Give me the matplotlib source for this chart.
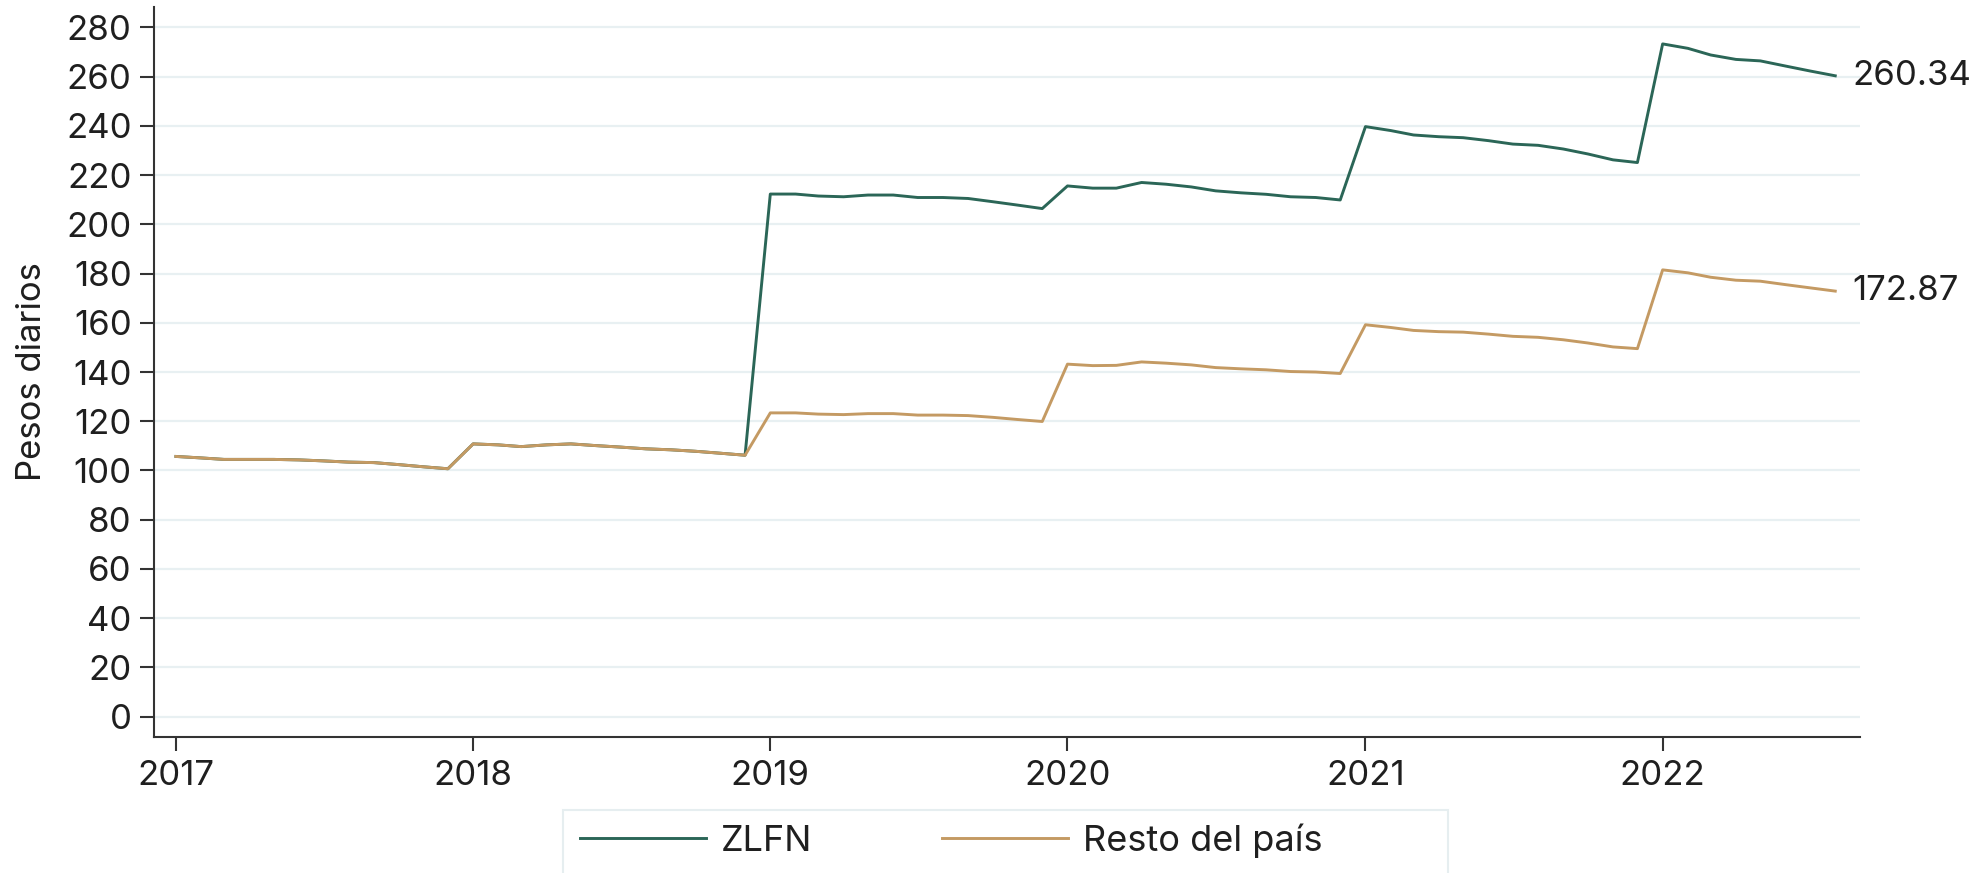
import numpy as np
import pandas as pd
import matplotlib
matplotlib.use('Agg')
import matplotlib.pyplot as plt
import matplotlib.dates as mdates
import matplotlib.patches as patches

# Salario minimo real mensual, ene 2017 - ago 2022
months = pd.date_range('2017-01-01', '2022-08-01', freq='MS')

common_2017_2018 = [105.7, 105.1, 104.5, 104.5, 104.5, 104.3, 103.9, 103.4, 103.2, 102.4, 101.5, 100.7,
                    110.8, 110.4, 109.7, 110.4, 110.8, 110.1, 109.5, 108.8, 108.4, 107.8, 107.0, 106.2]

zlfn_2019_2022 = [212.3, 212.3, 211.5, 211.2, 211.9, 211.9, 210.9, 210.9, 210.5, 209.2, 207.8, 206.4,
                  215.6, 214.7, 214.7, 217.0, 216.3, 215.2, 213.6, 212.8, 212.2, 211.2, 210.9, 209.9,
                  239.7, 238.1, 236.3, 235.6, 235.2, 234.0, 232.6, 232.1, 230.6, 228.6, 226.2, 225.1,
                  273.3, 271.5, 268.8, 267.0, 266.4, 264.3, 262.3, 260.34]

resto_2019_2022 = [123.4, 123.4, 122.9, 122.7, 123.1, 123.1, 122.5, 122.5, 122.3, 121.6, 120.7, 119.9,
                   143.2, 142.6, 142.7, 144.1, 143.6, 142.9, 141.8, 141.3, 140.9, 140.2, 140.0, 139.4,
                   159.2, 158.1, 156.9, 156.4, 156.2, 155.4, 154.5, 154.1, 153.1, 151.8, 150.2, 149.5,
                   181.5, 180.3, 178.5, 177.3, 176.9, 175.5, 174.2, 172.87]

zlfn = common_2017_2018 + zlfn_2019_2022
resto = common_2017_2018 + resto_2019_2022

series_names = ['ZLFN', 'Resto del país']
series_colors = ['#2b6657', '#c49a63']
year_ticks = [2017, 2018, 2019, 2020, 2021, 2022]
y_ticks = list(range(0, 281, 20))

plt.rcParams['font.family'] = ['Inter', 'DejaVu Sans']
text_color = '#1f1f1f'
fs = 25

fig = plt.figure(figsize=(19.74, 8.73), dpi=100)
ax = fig.add_axes([0.078, 0.156, 0.8645, 0.836])

ax.plot(months, zlfn, color=series_colors[0], lw=2.1, label=series_names[0], zorder=3)
ax.plot(months, resto, color=series_colors[1], lw=2.1, label=series_names[1], zorder=3)

# last values labels
for vals in [zlfn, resto]:
    ax.annotate(f'{vals[-1]:.2f}', xy=(months[-1], vals[-1]), xytext=(12, 0),
                textcoords='offset points', va='center', ha='left',
                fontsize=fs, color=text_color, annotation_clip=False)

ax.set_xlim(pd.Timestamp('2016-12-05'), pd.Timestamp('2022-09-01'))
ax.set_ylim(-8.2, 288.3)
ax.set_yticks(y_ticks)
ax.set_xticks([pd.Timestamp(f'{y}-01-01') for y in year_ticks])
ax.xaxis.set_major_formatter(mdates.DateFormatter('%Y'))

ax.grid(axis='y', color='#e8f0f2', lw=1.6, zorder=0)
ax.grid(axis='x', visible=False)
ax.spines[['top', 'right']].set_visible(False)
ax.spines[['left', 'bottom']].set_color('#333333')
ax.spines[['left', 'bottom']].set_linewidth(1.5)

ax.tick_params(axis='both', labelsize=fs, colors='#333333', labelcolor=text_color,
               length=10, width=1.5)
ax.tick_params(axis='x', pad=7)
ax.tick_params(axis='y', pad=6)
ax.set_ylabel('Pesos diarios', fontsize=fs, color=text_color, labelpad=13)

# legend box, wider than its entries
box = patches.Rectangle((0.2852, -0.01), 0.4483, 0.0822, transform=fig.transFigure,
                        facecolor='white', edgecolor='#e6eef0', lw=1.5)
fig.patches.append(box)
leg = fig.legend(loc='center left', bbox_to_anchor=(0.2937, 0.037), ncol=2,
                 fontsize=fs + 1, frameon=False, handlelength=3.5,
                 columnspacing=3.6, handletextpad=0.4, borderpad=0,
                 borderaxespad=0)
for t in leg.get_texts():
    t.set_color(text_color)

plt.savefig('out.png', dpi=100)
